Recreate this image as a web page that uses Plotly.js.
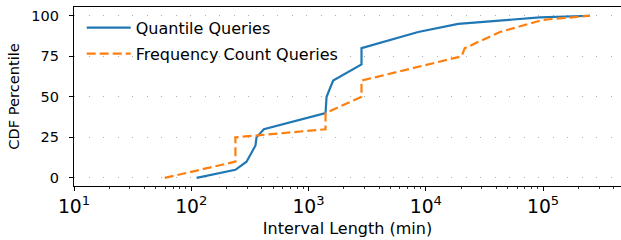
<!DOCTYPE html>
<html>
<head>
<meta charset="utf-8">
<script src="https://cdn.plot.ly/plotly-3.0.1.min.js"></script>
<style>html,body{margin:0;padding:0;background:#fff;}#chart{width:621px;height:240px;}</style>
</head>
<body>
<div id="chart"></div>
<script>
// Quantile Queries CDF
const quantileX = [111, 238, 296, 353, 360, 416, 1396, 1425, 1622, 2830, 2830, 8610, 18900, 94000, 251000];
const quantileY = [0, 5, 10, 20, 25, 30, 40, 50, 60, 70, 80, 90, 95, 99, 100];
// Frequency Count Queries CDF
const freqX = [59.4, 238, 238, 1396, 1396, 2830, 2830, 20200, 21500, 42900, 100500, 251000];
const freqY = [0, 10, 25, 30, 40, 50, 60, 75, 80, 90, 97.5, 100];

const seriesNames = ["Quantile Queries", "Frequency Count Queries"];
const yTicks = [0, 25, 50, 75, 100];

const font = "DejaVu Sans, sans-serif";

const traces = [
  {x: quantileX, y: quantileY, name: seriesNames[0], mode: "lines", legend: "legend",
   line: {color: "#1f77b4", width: 2.2}},
  {x: freqX, y: freqY, name: seriesNames[1], mode: "lines", legend: "legend2",
   line: {color: "#ff7f0e", width: 2.2, dash: "9px,4px"}}
];

const legendBase = {xanchor: "left", yanchor: "top", bgcolor: "rgba(255,255,255,0)",
                    font: {size: 16, family: font}, itemwidth: 44};

const layout = {
  width: 621, height: 240,
  margin: {l: 74, r: 0, t: 7, b: 54},
  paper_bgcolor: "#fff", plot_bgcolor: "#fff",
  font: {family: font, color: "#000", size: 14.5},
  showlegend: true,
  legend: Object.assign({x: 0.0141, y: 0.979}, legendBase),
  legend2: Object.assign({x: 0.0141, y: 0.834}, legendBase),
  xaxis: {
    type: "log", range: [1, Math.log10(462000)],
    tickmode: "linear", tick0: 0, dtick: 1, exponentformat: "power",
    labelalias: {"10": "10<sup>1</sup>"},
    ticks: "outside", ticklen: 4, tickwidth: 1, tickcolor: "#000",
    minor: {ticks: "outside", ticklen: 2, tickwidth: 0.8, tickcolor: "#000", showgrid: false},
    showline: true, linecolor: "#000", linewidth: 1.2, mirror: true,
    showgrid: false, zeroline: false,
    tickfont: {size: 15},
    title: {text: "Interval Length (min)", font: {size: 16}, standoff: 6}
  },
  yaxis: {
    range: [-5, 105.4],
    tickmode: "array", tickvals: yTicks,
    ticks: "outside", ticklen: 4, tickwidth: 1, tickcolor: "#000",
    ticklabelstandoff: 7,
    showline: true, linecolor: "#000", linewidth: 1.2, mirror: true,
    showgrid: true, gridcolor: "#b0b0b0", gridwidth: 1, griddash: "1px,13.5px",
    zeroline: false,
    tickfont: {size: 14.5},
    title: {text: "CDF Percentile", font: {size: 14.6}, standoff: 8}
  }
};

Plotly.newPlot("chart", traces, layout, {staticPlot: true, displayModeBar: false});
</script>
</body>
</html>
